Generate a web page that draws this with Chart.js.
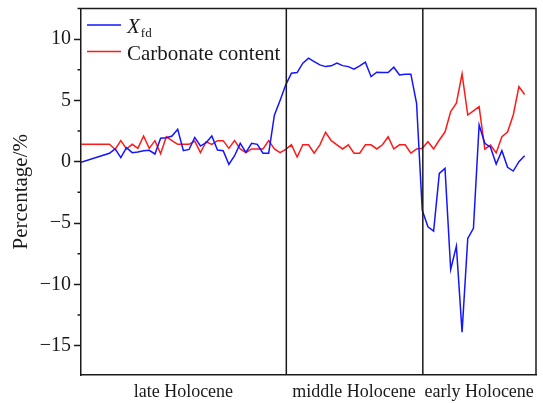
<!DOCTYPE html>
<html>
<head>
<meta charset="utf-8">
<script src="https://cdn.jsdelivr.net/npm/chart.js@4.4.1/dist/chart.umd.min.js"></script>
<style>
  html, body { margin: 0; padding: 0; background: #fff; }
  #wrap { width: 543px; height: 403px; }
</style>
</head>
<body>
<div id="wrap"><canvas id="chart" width="543" height="403"></canvas></div>
<script>
// sample positions along the core (arbitrary units)
const samplePos = [0, 5, 6, 7, 8, 9, 10, 11, 12, 13, 14, 15, 16, 17, 18, 19, 20, 21, 22, 23, 24,
  25, 26, 27, 28, 29, 30, 31, 32, 33, 34, 35, 36, 37, 38, 39, 40, 41, 42, 43, 44, 45, 46, 47,
  48, 49, 50, 51, 52, 53, 54, 55, 56, 57, 58, 59, 60, 61, 62, 63, 64, 65, 66, 67, 68, 69, 70,
  71, 72, 73, 74, 75, 76, 77, 78];

const xfd = [-0.05, 0.69, 1.05, 0.33, 1.14, 0.74, 0.8, 0.9, 0.93, 0.63, 1.91, 1.96, 2.1, 2.65,
  0.9, 1.0, 1.98, 1.28, 1.55, 2.1, 0.96, 0.9, -0.21, 0.49, 1.5, 0.77, 1.5, 1.42, 0.69, 0.69,
  3.8, 5.0, 6.27, 7.22, 7.27, 8.04, 8.45, 8.17, 7.9, 7.76, 7.82, 8.04, 7.84, 7.76, 7.55, 7.82,
  8.12, 6.94, 7.3, 7.27, 7.27, 7.71, 7.08, 7.14, 7.14, 4.77, -3.96, -5.31, -5.66, -0.95, -0.54,
  -8.79, -6.89, -13.9, -6.26, -5.44, 3.0, 1.5, 1.18, -0.19, 0.9, -0.46, -0.76, 0.0, 0.49];

const carbonate = [1.42, 1.42, 1.0, 1.72, 1.04, 1.42, 1.09, 2.1, 1.09, 1.72, 0.65, 2.04, 1.72,
  1.42, 1.42, 1.42, 1.68, 0.74, 1.63, 1.42, 1.72, 1.72, 1.09, 1.72, 1.04, 0.74, 1.04, 1.04,
  1.04, 1.72, 1.04, 0.74, 1.01, 1.38, 0.38, 1.38, 1.38, 0.7, 1.38, 2.4, 1.72, 1.38, 1.04, 1.38,
  0.7, 0.7, 1.38, 1.38, 1.04, 1.38, 2.04, 1.04, 1.38, 1.38, 0.7, 1.04, 1.09, 1.63, 1.04, 1.77,
  2.42, 4.1, 4.77, 7.17, 3.81, 4.15, 4.49, 1.03, 1.36, 0.72, 2.04, 2.42, 3.81, 6.13, 5.48];

const periods = ["late Holocene", "middle Holocene", "early Holocene"];
const periodCenters = [18, 48, 70];
const dividers = [36.1, 60.1];
const yTicks = [-15, -10, -5, 0, 5, 10];
const yMinor = [-12.5, -7.5, -2.5, 2.5, 7.5, 12.5];

const serif = "'Liberation Serif', 'Times New Roman', serif";
const ink = "#1a1a1a";

const toPoints = (ys) => ys.map((y, i) => ({ x: samplePos[i], y: y }));

// frame, period dividers, minor ticks and legend
const decorations = {
  id: "decorations",
  afterDatasetsDraw(chart) {
    const { ctx, chartArea: a, scales } = chart;
    ctx.save();
    ctx.strokeStyle = ink;
    ctx.lineWidth = 1.5;
    ctx.beginPath();
    ctx.moveTo(a.left, a.top);
    ctx.lineTo(a.right, a.top);
    ctx.lineTo(a.right, a.bottom);
    dividers.forEach((d) => {
      const px = scales.x.getPixelForValue(d);
      ctx.moveTo(px, a.top);
      ctx.lineTo(px, a.bottom);
    });
    yMinor.forEach((v) => {
      const py = scales.y.getPixelForValue(v);
      ctx.moveTo(a.left - 3.5, py);
      ctx.lineTo(a.left, py);
    });
    ctx.stroke();

    // legend
    const ds = chart.data.datasets;
    const rows = [a.top + 16.5, a.top + 43];
    rows.forEach((ry, i) => {
      ctx.strokeStyle = ds[i].borderColor;
      ctx.lineWidth = 1.5;
      ctx.beginPath();
      ctx.moveTo(a.left + 6, ry);
      ctx.lineTo(a.left + 40, ry);
      ctx.stroke();
    });
    ctx.fillStyle = ink;
    ctx.textBaseline = "alphabetic";
    ctx.font = "italic 21px " + serif;
    ctx.fillText("X", a.left + 46, rows[0] + 8);
    const w = ctx.measureText("X").width;
    ctx.font = "13px " + serif;
    ctx.fillText("fd", a.left + 47 + w, rows[0] + 12);
    ctx.font = "21px " + serif;
    ctx.fillText(ds[1].label, a.left + 46, rows[1] + 8);
    ctx.restore();
  },
};

new Chart(document.getElementById("chart"), {
  type: "line",
  data: {
    datasets: [
      {
        label: "Xfd",
        data: toPoints(xfd),
        borderColor: "#1414ff",
        borderWidth: 1.5,
        pointRadius: 0,
        tension: 0,
      },
      {
        label: "Carbonate content",
        data: toPoints(carbonate),
        borderColor: "#ff1a1a",
        borderWidth: 1.5,
        pointRadius: 0,
        tension: 0,
      },
    ],
  },
  options: {
    responsive: false,
    animation: false,
    layout: { padding: { top: 8.5, right: 7, left: 0, bottom: 0 } },
    plugins: {
      legend: { display: false },
      tooltip: { enabled: false },
    },
    scales: {
      x: {
        type: "linear",
        min: 0,
        max: 80,
        afterBuildTicks: (scale) => {
          scale.ticks = periodCenters.map((v) => ({ value: v }));
        },
        afterFit: (scale) => {
          scale.height = 28;
          scale.paddingLeft = 0;
          scale.paddingRight = 0;
        },
        ticks: {
          autoSkip: false,
          maxRotation: 0,
          padding: 6,
          color: ink,
          font: { family: serif, size: 18 },
          callback: (v, i) => periods[i],
        },
        grid: { drawOnChartArea: false, drawTicks: false },
        border: { color: ink, width: 1.5 },
      },
      y: {
        min: -17.4,
        max: 12.5,
        afterBuildTicks: (scale) => {
          scale.ticks = yTicks.map((v) => ({ value: v }));
        },
        afterFit: (scale) => {
          scale.width = 81;
          scale.paddingTop = 0;
          scale.paddingBottom = 0;
        },
        ticks: {
          padding: 3,
          color: ink,
          font: { family: serif, size: 20 },
          callback: (v) => String(v).replace("-", "\u2212"),
        },
        grid: { drawOnChartArea: false, tickLength: 7, tickColor: ink, tickWidth: 1.5 },
        border: { color: ink, width: 1.5 },
        title: {
          display: true,
          text: "Percentage/%",
          color: ink,
          font: { family: serif, size: 21 },
          padding: { top: 9, bottom: 0 },
        },
      },
    },
  },
  plugins: [decorations],
});
</script>
</body>
</html>
